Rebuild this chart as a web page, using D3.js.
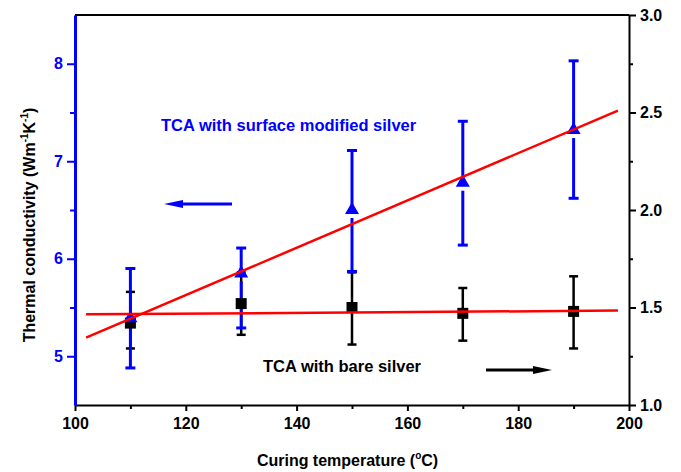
<!DOCTYPE html>
<html>
<head>
<meta charset="utf-8">
<script src="https://cdn.jsdelivr.net/npm/d3@7"></script>
<style>
  html, body { margin: 0; padding: 0; background: #fff; }
  svg { display: block; font-family: "Liberation Sans", Arial, sans-serif; }
</style>
</head>
<body>
<svg id="chart" width="681" height="472"></svg>
<script>
// ---- data ----
const temps = [110, 130, 150, 170, 190];
const surfaceTC = [5.39, 5.85, 6.50, 6.78, 7.32];
const surfaceLow = [4.88, 5.29, 5.87, 6.14, 6.62];
const surfaceHigh = [5.90, 6.11, 7.11, 7.41, 8.03];
const bareTC = [1.42, 1.52, 1.50, 1.47, 1.48];
const bareLow = [1.29, 1.36, 1.31, 1.33, 1.29];
const bareHigh = [1.58, 1.68, 1.68, 1.60, 1.66];
const fitX = [102, 198];
const fitSurface = [5.19, 7.52];
const fitBare = [1.465, 1.484];
const xTicks = [100, 120, 140, 160, 180, 200];
const xMinor = [110, 130, 150, 170, 190];
const leftTicks = [5, 6, 7, 8];
const leftMinor = [5.5, 6.5, 7.5];
const rightTicks = [1.0, 1.5, 2.0, 2.5, 3.0];
const rightMinor = [1.25, 1.75, 2.25, 2.75];
const labelSurface = "TCA with surface modified silver";
const labelBare = "TCA with bare silver";

// ---- layout ----
const L = 75, R = 629, T = 15, B = 405;
const BLUE = "#0000ff", RED = "#ff0000", BLACK = "#000";
const svg = d3.select("#chart");

const x = d3.scaleLinear().domain([100, 200]).range([L, R]);
const yL = d3.scaleLinear().domain([4.5, 8.5]).range([B, T]);
const yR = d3.scaleLinear().domain([1.0, 3.0]).range([B, T]);

// top frame line
svg.append("line").attr("x1", L).attr("x2", R).attr("y1", T).attr("y2", T)
  .attr("stroke", BLACK).attr("stroke-width", 2);

// bottom axis
const gx = svg.append("g").attr("transform", `translate(0,${B})`)
  .call(d3.axisBottom(x).tickValues(xTicks).tickSize(6).tickSizeOuter(0).tickPadding(7));
svg.append("g").attr("transform", `translate(0,${B})`)
  .call(d3.axisBottom(x).tickValues(xMinor).tickSize(4).tickSizeOuter(0).tickFormat(""))
  .call(g => g.select(".domain").remove());
gx.select(".domain").attr("stroke-width", 2);

// right axis
const gr = svg.append("g").attr("transform", `translate(${R},0)`)
  .call(d3.axisRight(yR).tickValues(rightTicks).tickSize(7).tickSizeOuter(0).tickPadding(4)
    .tickFormat(d3.format(".1f")));
svg.append("g").attr("transform", `translate(${R},0)`)
  .call(d3.axisRight(yR).tickValues(rightMinor).tickSize(4).tickSizeOuter(0).tickFormat(""))
  .call(g => g.select(".domain").remove());
gr.select(".domain").attr("stroke-width", 2);

// left axis (blue)
const gl = svg.append("g").attr("transform", `translate(${L},0)`)
  .call(d3.axisLeft(yL).tickValues(leftTicks).tickSize(8).tickSizeOuter(0).tickPadding(4)
    .tickFormat(d3.format("d")));
const glm = svg.append("g").attr("transform", `translate(${L},0)`)
  .call(d3.axisLeft(yL).tickValues(leftMinor).tickSize(5).tickSizeOuter(0).tickFormat(""));
glm.select(".domain").remove();
gl.select(".domain").attr("stroke", BLUE).attr("stroke-width", 3);
gl.selectAll(".tick line").attr("stroke", BLUE).attr("stroke-width", 2);
glm.selectAll(".tick line").attr("stroke", BLUE).attr("stroke-width", 2);
gl.selectAll(".tick text").attr("fill", BLUE);

[gx, gr, gl].forEach(g => g.selectAll(".tick text")
  .attr("font-size", 16).attr("font-weight", "bold")
  .attr("font-family", "'Liberation Sans', Arial, sans-serif"));
gx.selectAll(".tick line").attr("stroke-width", 2);
gr.selectAll(".tick line").attr("stroke-width", 2);
svg.selectAll("g .tick line").filter(function(){ return !this.getAttribute("stroke-width"); })
  .attr("stroke-width", 2);

// ---- error bars: bare silver (black, right axis) ----
const capB = 4.5;
const eb = svg.append("g");
temps.forEach((t, i) => {
  const cx = x(t);
  eb.append("line").attr("x1", cx).attr("x2", cx).attr("y1", yR(bareHigh[i])).attr("y2", yR(bareLow[i]))
    .attr("stroke", BLACK).attr("stroke-width", 2.5);
  [bareHigh[i], bareLow[i]].forEach(v => eb.append("line")
    .attr("x1", cx - capB).attr("x2", cx + capB).attr("y1", yR(v)).attr("y2", yR(v))
    .attr("stroke", BLACK).attr("stroke-width", 2.5));
});

// ---- error bars: surface modified (blue, left axis), gap below the triangle ----
const capS = 5;
const es = svg.append("g");
temps.forEach((t, i) => {
  const cx = x(t), cy = yL(surfaceTC[i]);
  es.append("line").attr("x1", cx).attr("x2", cx).attr("y1", yL(surfaceHigh[i])).attr("y2", cy)
    .attr("stroke", BLUE).attr("stroke-width", 3);
  es.append("line").attr("x1", cx).attr("x2", cx).attr("y1", cy + 8).attr("y2", yL(surfaceLow[i]))
    .attr("stroke", BLUE).attr("stroke-width", 3);
  [surfaceHigh[i], surfaceLow[i]].forEach(v => es.append("line")
    .attr("x1", cx - capS).attr("x2", cx + capS).attr("y1", yL(v)).attr("y2", yL(v))
    .attr("stroke", BLUE).attr("stroke-width", 3));
});

// ---- markers ----
svg.append("g").selectAll("rect").data(temps).join("rect")
  .attr("x", d => x(d) - 5.5).attr("y", (d, i) => yR(bareTC[i]) - 5.5)
  .attr("width", 11).attr("height", 11).attr("fill", BLACK);

const tri = d3.symbol().type(d3.symbolTriangle).size(85);
svg.append("g").selectAll("path").data(temps).join("path")
  .attr("d", tri)
  .attr("transform", (d, i) => `translate(${x(d)},${yL(surfaceTC[i])})`)
  .attr("fill", BLUE);

// ---- fit lines ----
const lineL = d3.line().x(d => x(d[0])).y(d => yL(d[1]));
const lineR = d3.line().x(d => x(d[0])).y(d => yR(d[1]));
svg.append("path").attr("d", lineL(fitX.map((v, i) => [v, fitSurface[i]])))
  .attr("stroke", RED).attr("stroke-width", 2.5).attr("fill", "none");
svg.append("path").attr("d", lineR(fitX.map((v, i) => [v, fitBare[i]])))
  .attr("stroke", RED).attr("stroke-width", 2.5).attr("fill", "none");

// ---- annotations ----
svg.append("text").attr("x", 161).attr("y", 131).text(labelSurface)
  .attr("fill", BLUE).attr("font-size", 16.5).attr("font-weight", "bold");
svg.append("text").attr("x", 263).attr("y", 372).text(labelBare)
  .attr("fill", BLACK).attr("font-size", 16.5).attr("font-weight", "bold");

// arrows
function arrow(x1, x2, y, color) {
  const dir = Math.sign(x2 - x1);
  svg.append("line").attr("x1", x1).attr("x2", x2 - dir * 14).attr("y1", y).attr("y2", y)
    .attr("stroke", color).attr("stroke-width", 3);
  svg.append("path")
    .attr("d", `M${x2},${y} L${x2 - dir * 19},${y - 4} L${x2 - dir * 19},${y + 4} Z`)
    .attr("fill", color);
}
arrow(232, 164, 204, BLUE);
arrow(486, 552, 370, BLACK);

// ---- axis titles ----
const xt = svg.append("text").attr("x", 347.5).attr("y", 466).attr("text-anchor", "middle")
  .attr("font-size", 16).attr("font-weight", "bold");
xt.append("tspan").text("Curing temperature (");
xt.append("tspan").attr("font-size", 10).attr("dy", -7).text("o");
xt.append("tspan").attr("dy", 7).text("C)");

const yt = svg.append("text").attr("transform", `translate(35,225) rotate(-90)`)
  .attr("text-anchor", "middle").attr("font-size", 16).attr("font-weight", "bold");
yt.append("tspan").text("Thermal conductivity (Wm");
yt.append("tspan").attr("font-size", 10).attr("dy", -7).text("-1");
yt.append("tspan").attr("dy", 7).text("K");
yt.append("tspan").attr("font-size", 10).attr("dy", -7).text("-1");
yt.append("tspan").attr("dy", 7).text(")");
</script>
</body>
</html>
